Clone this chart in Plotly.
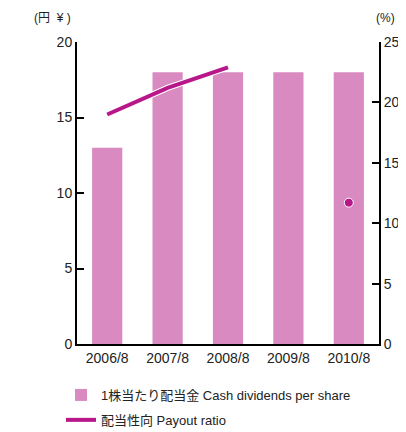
import plotly.graph_objects as go


# ----------------------------------------
# Data
# ----------------------------------------

years = ["2006/8", "2007/8", "2008/8", "2009/8", "2010/8"]

dividends = [13, 18, 18, 18, 18]

payout_years = ["2006/8", "2007/8", "2008/8"]
payout_ratio = [19.0, 21.2, 22.9]

payout_point_year = ["2010/8"]
payout_point = [11.7]

bar_name = "1株当たり配当金 Cash dividends per share"
line_name = "配当性向 Payout ratio"

BAR_COLOR = "#d98bc1"
LINE_COLOR = "#b8178a"
FONT = "Liberation Sans, Noto Sans CJK JP, sans-serif"

# the page body adds an 8px offset, so the figure is 8px smaller
OFF = 8
W, H = 406 - OFF, 432 - OFF
L, T = 77 - OFF, 42 - OFF
R = W - (379 - OFF)
B = H - (344 - OFF)
pw = W - L - R
ph = H - T - B


def px_to_paper(x, y):
    # x, y are window pixels
    return (x - OFF - L) / pw, (H - B - (y - OFF)) / ph


# ----------------------------------------
# Figure
# ----------------------------------------

fig = go.Figure()

fig.add_trace(go.Bar(
    x=years,
    y=dividends,
    name=bar_name,
    marker=dict(color=BAR_COLOR, line=dict(width=0)),
    width=0.5,
    legendgroup="a"
))

# thin white halo under the line
fig.add_trace(go.Scatter(
    x=payout_years,
    y=payout_ratio,
    yaxis="y2",
    mode="lines",
    line=dict(color="white", width=6),
    showlegend=False,
    hoverinfo="skip"
))

fig.add_trace(go.Scatter(
    x=payout_years,
    y=payout_ratio,
    yaxis="y2",
    mode="lines",
    name=line_name,
    line=dict(color=LINE_COLOR, width=4),
    legendgroup="b"
))

fig.add_trace(go.Scatter(
    x=payout_point_year,
    y=payout_point,
    yaxis="y2",
    mode="markers",
    marker=dict(color=LINE_COLOR, size=9, line=dict(color="white", width=1)),
    showlegend=False
))

axis_common = dict(
    dtick=5,
    showline=True,
    linecolor="black",
    linewidth=2,
    ticks="inside",
    ticklen=7,
    tickwidth=2,
    tickcolor="black",
    showgrid=False,
    zeroline=False,
    automargin=False,
    tickfont=dict(size=14)
)

lx, ly = px_to_paper(61, 380)
yen_x, top_y = px_to_paper(52, 8.5)
pct_x, _ = px_to_paper(397, 8.5)

fig.update_layout(
    width=W,
    height=H,
    paper_bgcolor="white",
    plot_bgcolor="white",
    font=dict(family=FONT, size=13, color="#222222"),
    margin=dict(l=L, r=R, t=T, b=B, autoexpand=False),
    showlegend=True,
    legend=dict(
        x=lx,
        y=ly,
        xanchor="left",
        yanchor="top",
        orientation="v",
        tracegroupgap=5,
        font=dict(size=13, color="#222222"),
        itemwidth=30
    ),
    xaxis=dict(
        showline=True,
        linecolor="black",
        linewidth=2,
        ticks="",
        showgrid=False,
        automargin=False,
        tickfont=dict(size=14)
    ),
    yaxis=dict(range=[0, 20], **axis_common),
    yaxis2=dict(range=[0, 25], overlaying="y", side="right", **axis_common),
    annotations=[
        dict(text="(円  ¥ )", x=yen_x, y=top_y, xref="paper", yref="paper",
             xanchor="center", yanchor="top",
             showarrow=False, font=dict(size=12)),
        dict(text="(%)", x=pct_x, y=top_y, xref="paper", yref="paper",
             xanchor="right", yanchor="top",
             showarrow=False, font=dict(size=12))
    ]
)

fig.write_html("out.html")
